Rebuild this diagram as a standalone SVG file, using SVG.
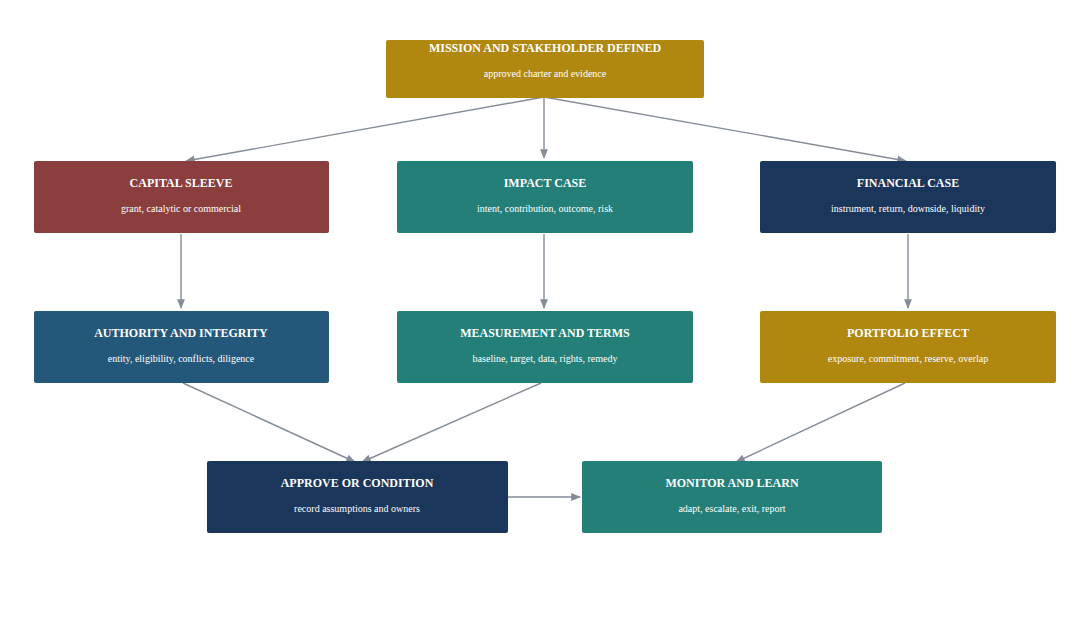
<svg xmlns="http://www.w3.org/2000/svg" width="1090" height="620" viewBox="0 0 1090 620">
<style>
.t{font-family:"Liberation Serif","Times New Roman",serif;font-weight:bold;font-size:12px;fill:#fff;text-anchor:middle}
.s{font-family:"Liberation Serif","Times New Roman",serif;font-size:10px;fill:#fff;text-anchor:middle}
.c path{fill:none;stroke:#858c99;stroke-width:1.4;marker-end:url(#a)}
</style>
<defs><marker id="a" viewBox="0 0 10 10" refX="9" refY="5" markerWidth="7" markerHeight="7" orient="auto-start-reverse"><path d="M0,1 L10,5 L0,9 z" fill="#858c99"/></marker></defs>
<rect width="1090" height="620" fill="#fff"/>
<g class="c">
<path d="M544,97 L186,161"/>
<path d="M544,97 L544,158"/>
<path d="M544,97 L906,161"/>
<path d="M181,234 L181,308"/>
<path d="M544,234 L544,308"/>
<path d="M908,234 L908,308"/>
<path d="M183,383 L355,462"/>
<path d="M541,383 L362,462"/>
<path d="M905,383 L736,462"/>
<path d="M508,497 L580,497"/>
</g>
<g id="mission"><rect x="386" y="40" width="318" height="58" rx="2" fill="#b08810"/><text class="t" x="545" y="52">MISSION AND STAKEHOLDER DEFINED</text><text class="s" x="545" y="77">approved charter and evidence</text></g>
<g id="capital"><rect x="34" y="161" width="295" height="72" rx="2" fill="#8b3e3e"/><text class="t" x="181" y="187">CAPITAL SLEEVE</text><text class="s" x="181" y="212">grant, catalytic or commercial</text></g>
<g id="impact"><rect x="397" y="161" width="296" height="72" rx="2" fill="#237f77"/><text class="t" x="545" y="187">IMPACT CASE</text><text class="s" x="545" y="212">intent, contribution, outcome, risk</text></g>
<g id="financial"><rect x="760" y="161" width="296" height="72" rx="2" fill="#1a365a"/><text class="t" x="908" y="187">FINANCIAL CASE</text><text class="s" x="908" y="212">instrument, return, downside, liquidity</text></g>
<g id="authority"><rect x="34" y="311" width="295" height="72" rx="2" fill="#24587a"/><text class="t" x="181" y="337">AUTHORITY AND INTEGRITY</text><text class="s" x="181" y="362">entity, eligibility, conflicts, diligence</text></g>
<g id="measurement"><rect x="397" y="311" width="296" height="72" rx="2" fill="#237f77"/><text class="t" x="545" y="337">MEASUREMENT AND TERMS</text><text class="s" x="545" y="362">baseline, target, data, rights, remedy</text></g>
<g id="portfolio"><rect x="760" y="311" width="296" height="72" rx="2" fill="#b08810"/><text class="t" x="908" y="337">PORTFOLIO EFFECT</text><text class="s" x="908" y="362">exposure, commitment, reserve, overlap</text></g>
<g id="approve"><rect x="207" y="461" width="301" height="72" rx="2" fill="#1a365a"/><text class="t" x="357" y="487">APPROVE OR CONDITION</text><text class="s" x="357" y="512">record assumptions and owners</text></g>
<g id="monitor"><rect x="582" y="461" width="300" height="72" rx="2" fill="#237f77"/><text class="t" x="732" y="487">MONITOR AND LEARN</text><text class="s" x="732" y="512">adapt, escalate, exit, report</text></g>
</svg>
